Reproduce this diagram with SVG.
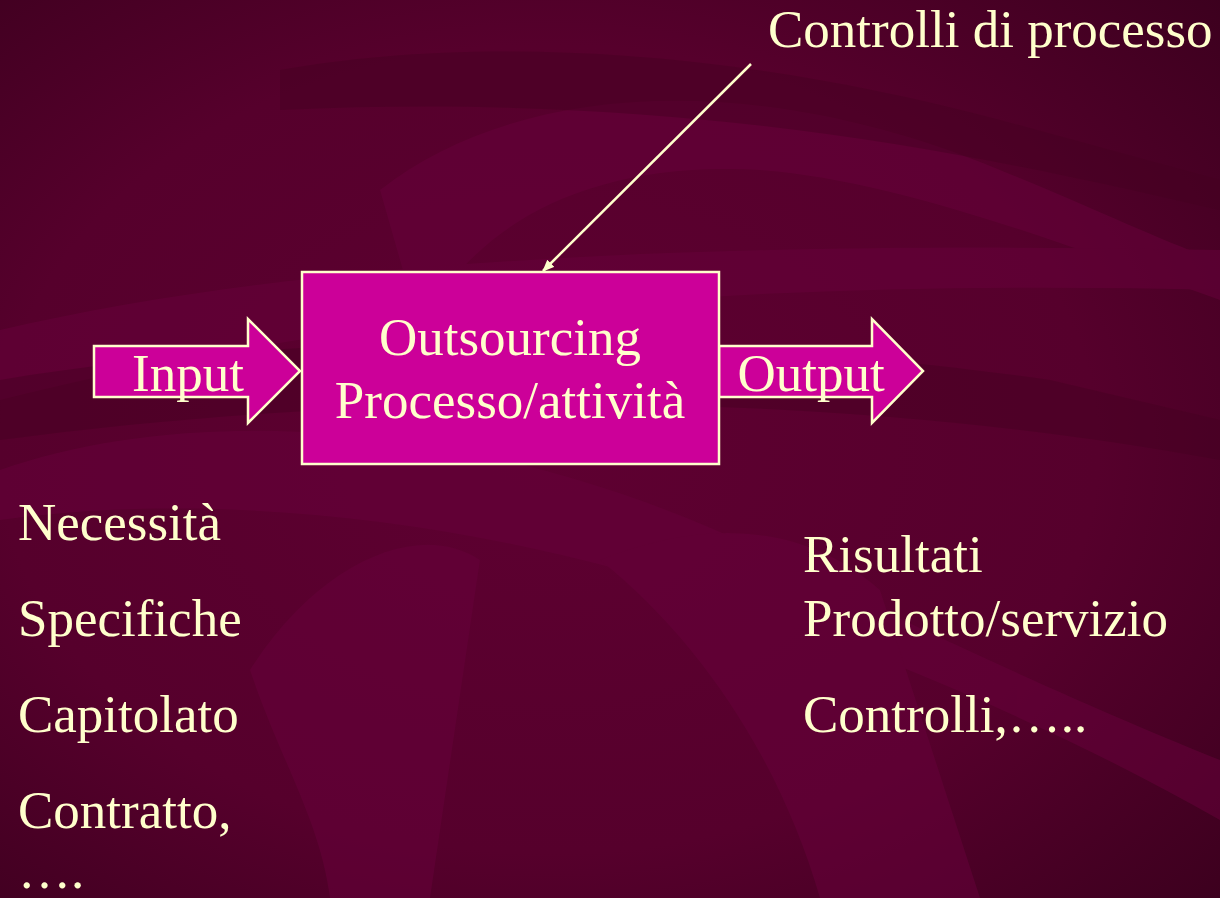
<svg xmlns="http://www.w3.org/2000/svg" width="1220" height="898" viewBox="0 0 1220 898">
<defs>
<radialGradient id="bg" cx="0.45" cy="0.5" r="0.75">
<stop offset="0" stop-color="#5e0031"/>
<stop offset="0.6" stop-color="#56002c"/>
<stop offset="1" stop-color="#3c001e"/>
</radialGradient>
<marker id="ah" markerWidth="12" markerHeight="10" refX="11" refY="5" orient="auto" markerUnits="userSpaceOnUse">
<path d="M0,0 L12,5 L0,10 z" fill="#FFFFCC"/>
</marker>
<style>
.t{font-family:"Liberation Serif","Times New Roman",serif;font-size:53px;fill:#FFFFCC}
.shape{fill:#CC0099;stroke:#FFFFCC;stroke-width:2.5}
</style>
</defs>
<rect width="1220" height="898" fill="url(#bg)"/>
<g id="background" fill="#66003a" opacity="0.55">
<path d="M380,190 C520,80 760,70 1000,170 C1100,210 1180,250 1220,260 L1220,300 C1080,250 900,180 760,170 C580,160 470,230 420,330 Z"/>
<path d="M0,330 C300,260 700,240 1220,250 L1220,290 C820,280 400,300 0,400 Z"/>
<path d="M0,470 C200,400 500,420 780,560 C960,650 1120,720 1220,760 L1220,820 C1080,740 900,660 720,600 C480,520 220,490 0,520 Z"/>
<path d="M250,670 C320,560 420,520 480,560 L430,898 L330,898 C320,820 280,760 250,670 Z"/>
<path d="M600,560 C700,520 800,520 880,590 L980,898 L820,898 C780,760 700,640 600,560 Z"/>
</g>
<g id="background-dark" fill="#440022" opacity="0.45">
<path d="M280,70 C450,40 700,40 1000,120 L1220,180 L1220,210 C1000,160 700,90 280,110 Z"/>
<path d="M0,380 C300,330 700,330 1050,380 L1220,420 L1220,460 C900,400 450,380 0,440 Z"/>
</g>
<g id="connectors">
<line x1="751" y1="64" x2="543" y2="271" stroke="#FFFFCC" stroke-width="2.5" marker-end="url(#ah)"/>
</g>
<g id="input">
<path class="shape" d="M94,346 L248,346 L248,319 L300,371 L248,423 L248,397 L94,397 Z"/>
<text class="t" x="188" y="391" text-anchor="middle">Input</text>
</g>
<g id="output">
<path class="shape" d="M719,346 L872,346 L872,319 L923,371 L872,423 L872,397 L719,397 Z"/>
<text class="t" x="811" y="391" text-anchor="middle">Output</text>
</g>
<g id="process">
<rect class="shape" x="302" y="272" width="417" height="192"/>
<text class="t" x="510" y="355" text-anchor="middle">Outsourcing</text>
<text class="t" x="510" y="418" text-anchor="middle">Processo/attività</text>
</g>
<g id="controls">
<text class="t" x="768" y="47">Controlli di processo</text>
</g>
<g id="inputs-list">
<text class="t" x="18" y="540">Necessità</text>
<text class="t" x="18" y="636">Specifiche</text>
<text class="t" x="18" y="732">Capitolato</text>
<text class="t" x="18" y="828">Contratto,</text>
<text class="t" x="18" y="888">….</text>
</g>
<g id="outputs-list">
<text class="t" x="803" y="572">Risultati</text>
<text class="t" x="803" y="636">Prodotto/servizio</text>
<text class="t" x="803" y="732">Controlli,…..</text>
</g>
</svg>
